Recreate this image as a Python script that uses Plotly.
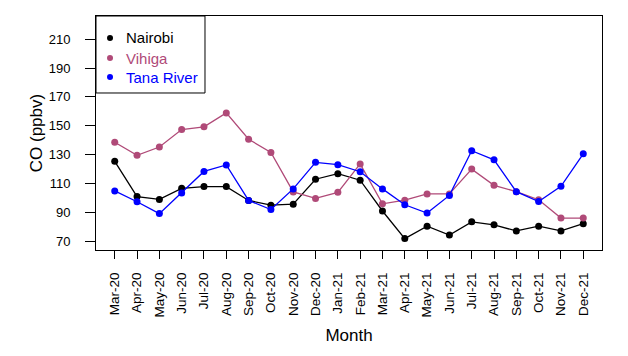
import plotly.graph_objects as go

months = ["Mar-20", "Apr-20", "May-20", "Jun-20", "Jul-20", "Aug-20", "Sep-20", "Oct-20",
          "Nov-20", "Dec-20", "Jan-21", "Feb-21", "Mar-21", "Apr-21", "May-21", "Jun-21",
          "Jul-21", "Aug-21", "Sep-21", "Oct-21", "Nov-21", "Dec-21"]

nairobi = [125.4, 101.0, 99.0, 106.7, 107.9, 107.9, 98.3, 95.0, 95.7, 113.0, 116.8, 112.3,
           91.0, 71.9, 80.5, 74.4, 83.5, 81.4, 77.2, 80.5, 77.2, 82.2]
vihiga = [138.6, 129.6, 135.3, 147.4, 149.3, 158.9, 140.7, 131.5, 104.2, 99.7, 103.9, 123.6,
          96.0, 98.5, 102.8, 102.8, 120.0, 108.8, 104.4, 98.8, 86.1, 86.1]
tana_river = [104.9, 97.4, 89.2, 103.5, 118.4, 122.9, 98.3, 92.0, 106.3, 124.7, 123.1, 118.2,
              106.3, 95.3, 89.6, 101.8, 132.7, 126.4, 104.4, 97.6, 108.1, 130.6]

y_ticks = [70, 90, 110, 130, 150, 170, 190, 210]

series = [("Nairobi", nairobi, "black"),
          ("Vihiga", vihiga, "#B04A78"),
          ("Tana River", tana_river, "blue")]

font_family = "Arial, Liberation Sans, sans-serif"

fig = go.Figure()
x_idx = list(range(len(months)))
for name, vals, color in series:
    fig.add_trace(go.Scatter(
        x=x_idx, y=vals, mode="lines+markers", name=name, showlegend=False,
        line=dict(color=color, width=1.3),
        marker=dict(color=color, size=7),
    ))

# hand drawn legend box (R style: dot + coloured label)
fig.add_shape(type="rect", xref="paper", yref="paper", x0=0, x1=0.2154, y0=0.671, y1=1,
              line=dict(color="black", width=1), fillcolor="white", layer="above")
legend_y = [0.906, 0.8205, 0.739]
for (name, vals, color), ly in zip(series, legend_y):
    fig.add_shape(type="circle", xref="paper", yref="paper",
                  xsizemode="pixel", ysizemode="pixel",
                  xanchor=0.0277, yanchor=ly, x0=-3, x1=3, y0=-3, y1=3,
                  fillcolor=color, line=dict(color=color, width=0), layer="above")
    fig.add_annotation(x=0.0553, y=ly, xref="paper", yref="paper", text=name,
                       showarrow=False, xanchor="left", yanchor="middle",
                       font=dict(size=15, color=color, family=font_family))

fig.update_xaxes(
    range=[-0.84, len(months) - 1 + 0.84],
    tickmode="array", tickvals=x_idx, ticktext=months, tickangle=-90,
    ticks="outside", ticklen=8, tickcolor="black", ticklabelstandoff=8,
    tickfont=dict(size=13.5, color="black", family=font_family),
    showline=True, linecolor="black", linewidth=1, mirror=True,
    showgrid=False, zeroline=False, automargin=False,
    title=dict(text="Month", font=dict(size=17, color="black", family=font_family), standoff=12),
)
fig.update_yaxes(
    range=[64, 226],
    tickmode="array", tickvals=y_ticks,
    ticks="outside", ticklen=10, tickcolor="black", ticklabelstandoff=12,
    tickfont=dict(size=13, color="black", family=font_family),
    showline=True, linecolor="black", linewidth=1, mirror=True,
    showgrid=False, zeroline=False, automargin=False,
    title=dict(text="CO (ppbv)", font=dict(size=17, color="black", family=font_family), standoff=1),
)

fig.update_layout(
    width=628, height=356,
    margin=dict(l=96, r=26, t=16, b=106),
    plot_bgcolor="white", paper_bgcolor="white",
    font=dict(family=font_family, color="black"),
    showlegend=False,
)

# drop the browser's default 8px body margin so the figure sits at the window origin
fig.write_html("out.html", config={"displayModeBar": False},
               post_script="document.body.style.margin='0';")
